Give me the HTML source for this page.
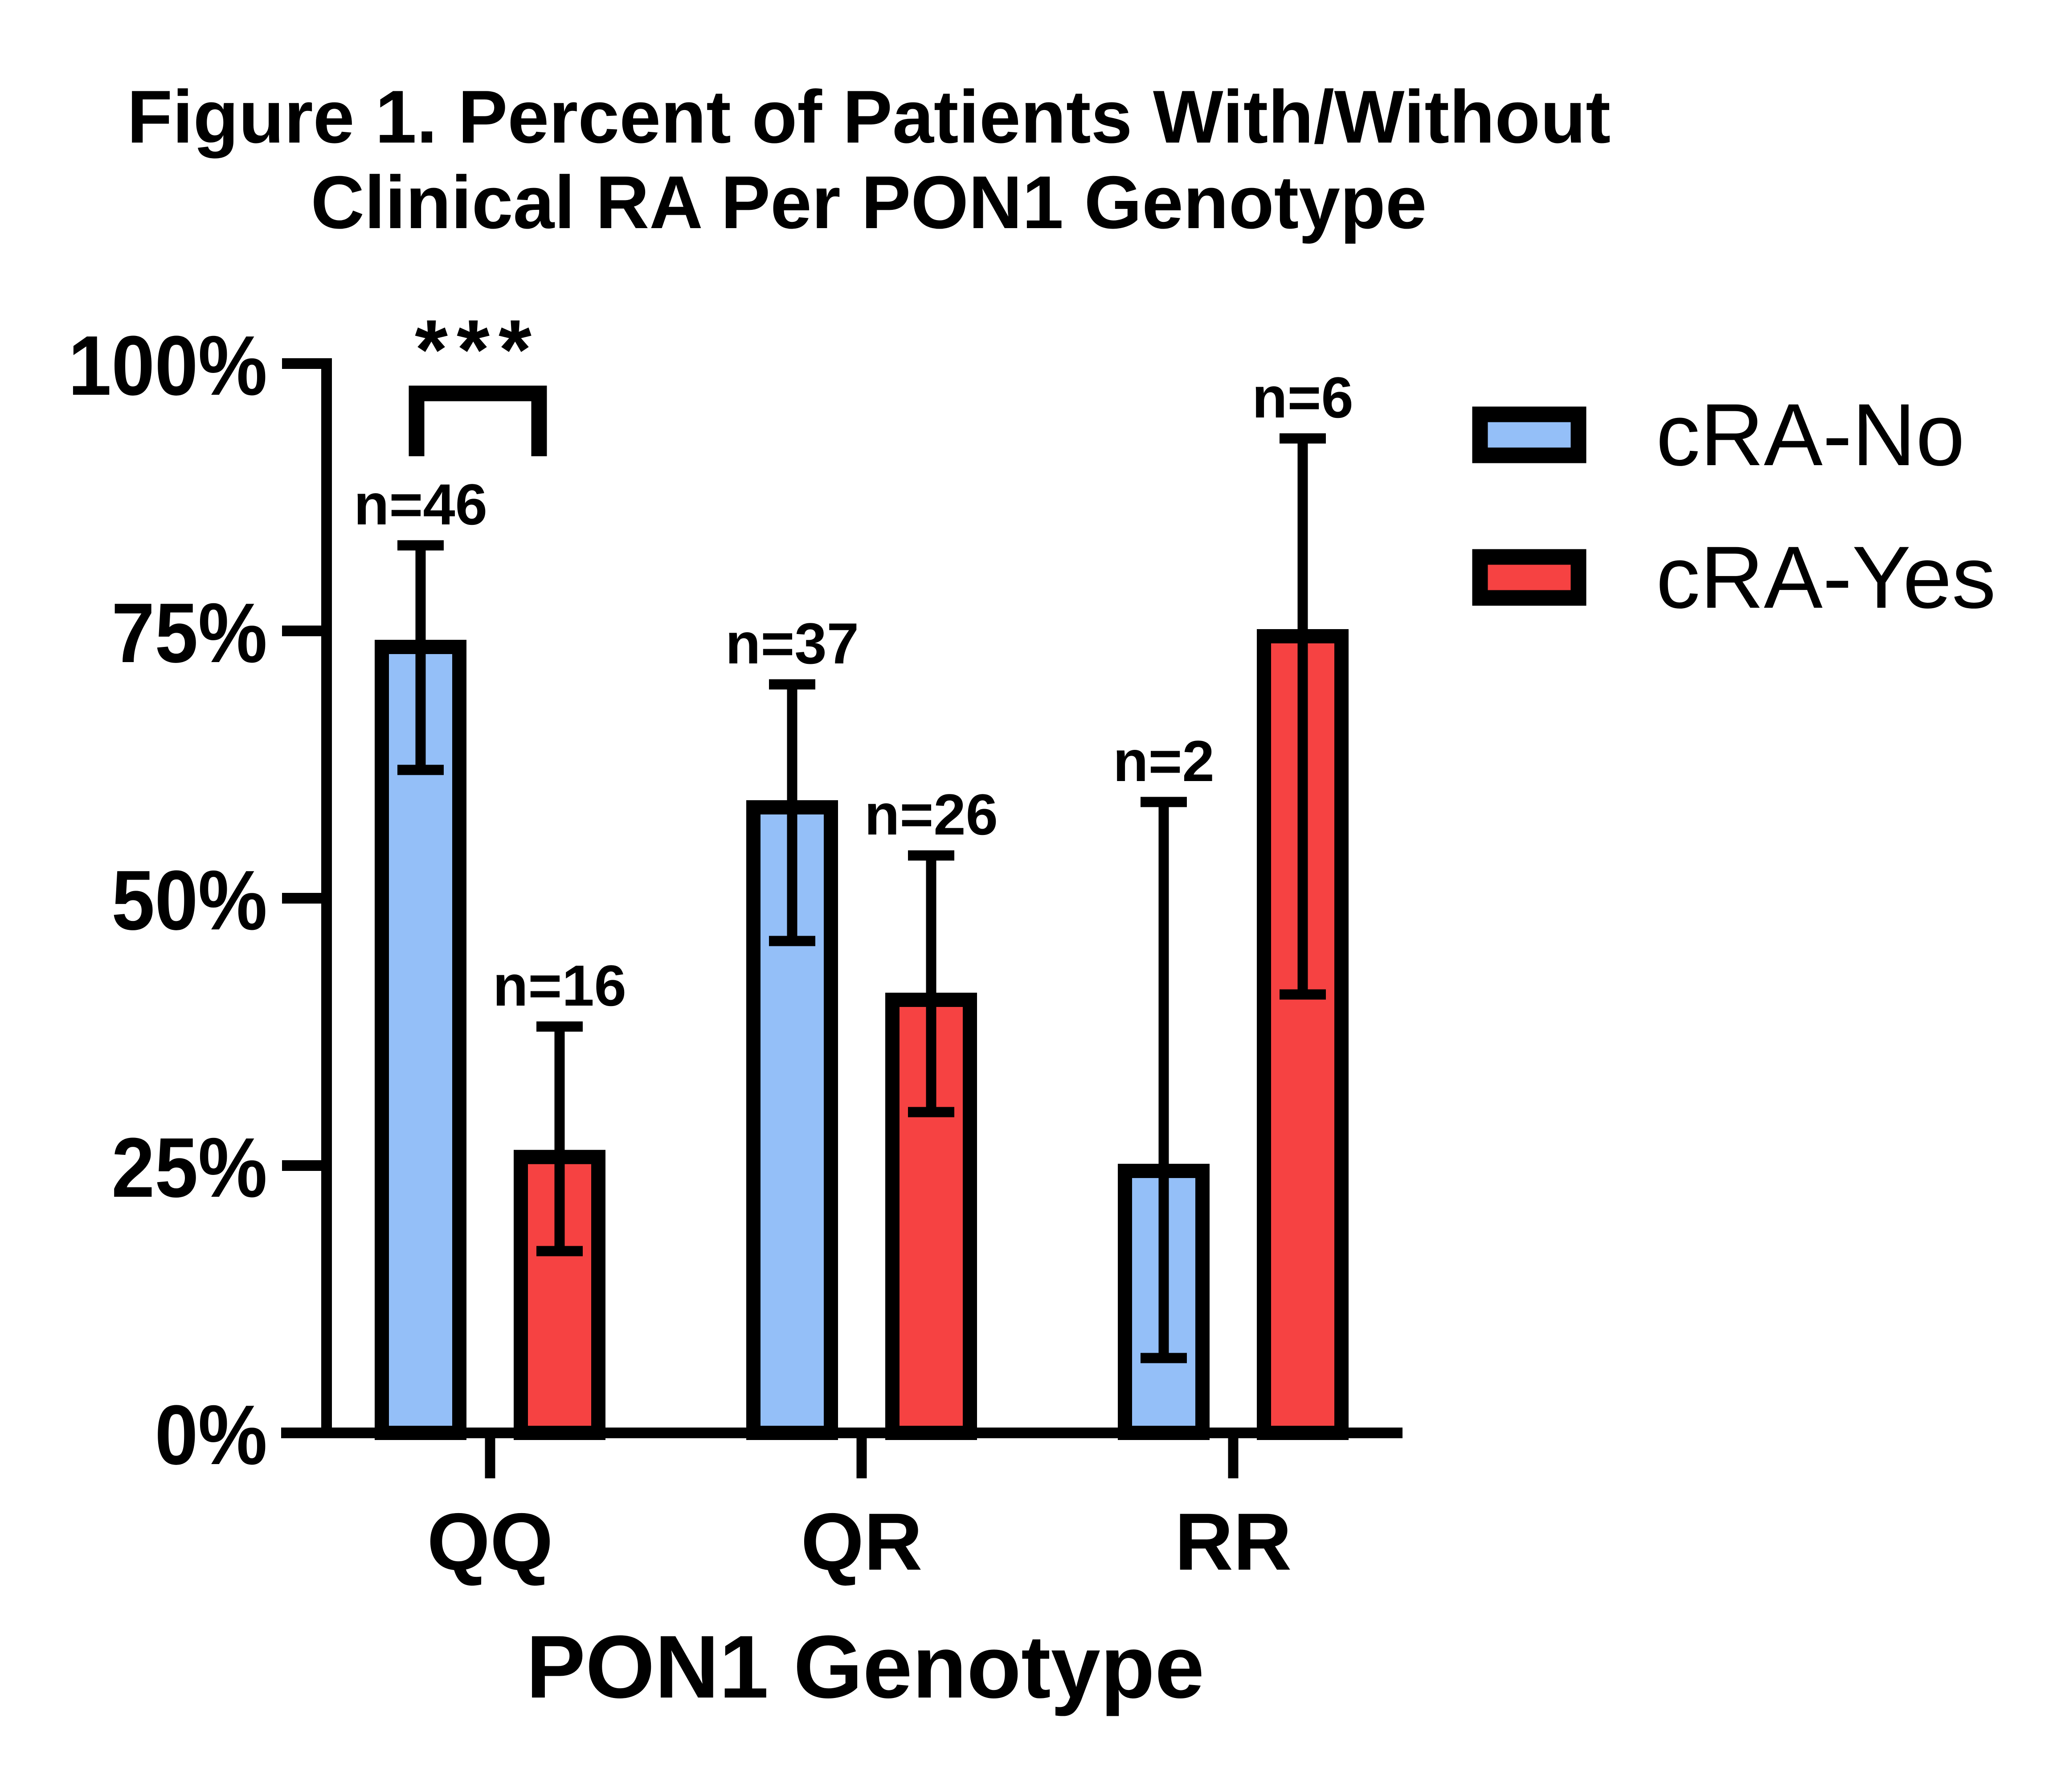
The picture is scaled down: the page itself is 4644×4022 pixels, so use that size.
<!DOCTYPE html>
<html><head><meta charset="utf-8"><style>
html,body{margin:0;padding:0;background:#fff;}
svg{display:block;}
text{font-family:"Liberation Sans",Arial,sans-serif;}
</style></head><body>
<svg id="chart" width="4644" height="4022" viewBox="0 0 4644 4022" xmlns="http://www.w3.org/2000/svg">
<rect width="4644" height="4022" fill="#fff"/>
<text x="1950" y="320" font-size="168" font-weight="bold" text-anchor="middle" textLength="3330" lengthAdjust="spacingAndGlyphs">Figure 1. Percent of Patients With/Without</text>
<text x="1950" y="512" font-size="168" font-weight="bold" text-anchor="middle" textLength="2505" lengthAdjust="spacingAndGlyphs">Clinical RA Per PON1 Genotype</text>
<g id="plot"></g>
<g>
 <rect x="3322" y="930" width="221" height="92" fill="#94BFF8" stroke="#000" stroke-width="35"/>
 <text x="3717" y="1044" font-size="198">cRA-No</text>
 <rect x="3322" y="1250" width="221" height="92" fill="#F64242" stroke="#000" stroke-width="35"/>
 <text x="3717" y="1364" font-size="198">cRA-Yes</text>
</g>
</svg>
<script>
const categories = ["QQ", "QR", "RR"];
const noValues = [73.5, 58.5, 24.5];
const yesValues = [25.8, 40.5, 74.5];
const noErrLow = [62, 46, 7];
const noErrHigh = [83, 70, 59];
const yesErrLow = [17, 30, 41];
const yesErrHigh = [38, 54, 93];
const noN = ["n=46", "n=37", "n=2"];
const yesN = ["n=16", "n=26", "n=6"];
const yTicks = [0, 25, 50, 75, 100];
const yTickLabels = ["0%", "25%", "50%", "75%", "100%"];

const NS = "http://www.w3.org/2000/svg";
const plot = document.getElementById("plot");
function y(v){ return 3216 - v * 24; }
function xCat(i){ return 1100 + i * 834; }
const off = 156, bw = 174;
function mk(tag, attrs){ const e = document.createElementNS(NS, tag); for (const k in attrs) e.setAttribute(k, attrs[k]); plot.appendChild(e); return e; }

function bar(cx, v, fill, lo, hi, lab, nm){
  const r = mk("rect", {x: cx - bw/2, y: y(v), width: bw, height: y(0) - y(v), fill: fill, stroke: "#000", "stroke-width": 32});
  
  
  const g = mk("path", {d: `M${cx} ${y(lo)}V${y(hi)}M${cx-52} ${y(hi)}H${cx+52}M${cx-52} ${y(lo)}H${cx+52}`, stroke: "#000", "stroke-width": 23, fill: "none"});
  
  
  const t = mk("text", {x: cx, y: y(hi) - 47, "font-size": 130, "font-weight": "bold", "text-anchor": "middle"});
  t.textContent = lab;
  
  
}
categories.forEach((c, i) => {
  bar(xCat(i) - off, noValues[i], "#94BFF8", noErrLow[i], noErrHigh[i], noN[i], 'bar-' + c.toLowerCase() + '-no');
  bar(xCat(i) + off, yesValues[i], "#F64242", yesErrLow[i], yesErrHigh[i], yesN[i], 'bar-' + c.toLowerCase() + '-yes');
  const tk = mk("line", {x1: xCat(i), x2: xCat(i), y1: y(0), y2: 3318, stroke: "#000", "stroke-width": 23});
  
  
  const tl = mk("text", {x: xCat(i), y: 3523, "font-size": 182, "font-weight": "bold", "text-anchor": "middle"});
  tl.textContent = c;
  
  
});
yTicks.forEach((v, i) => {
  const tk = mk("line", {x1: 633, x2: 745, y1: y(v), y2: y(v), stroke: "#000", "stroke-width": 24});
  
  
  const tl = mk("text", {x: 600, y: y(v) + 70, "font-size": 190, "font-weight": "bold", "text-anchor": "end", "transform": `translate(600 0) scale(0.92 1) translate(-600 0)`});
  tl.textContent = yTickLabels[i];
  
  
});
const ya = mk("line", {x1: 733, x2: 733, y1: y(100) - 12, y2: y(0) + 12, stroke: "#000", "stroke-width": 24});


const xa = mk("line", {x1: 631, x2: 3148, y1: y(0), y2: y(0), stroke: "#000", "stroke-width": 24});


const xt = mk("text", {x: 1942, y: 3810, "font-size": 200, "font-weight": "bold", "text-anchor": "middle"});
xt.textContent = "PON1 Genotype";


const br = mk("path", {d: "M935 1024V883H1210V1024", stroke: "#000", "stroke-width": 35, fill: "none"});


const st = mk("text", {x: 1072, y: 850, "font-size": 190, "font-weight": "bold", "text-anchor": "middle", "letter-spacing": "20"});
st.textContent = "***";


</script>
</body></html>
